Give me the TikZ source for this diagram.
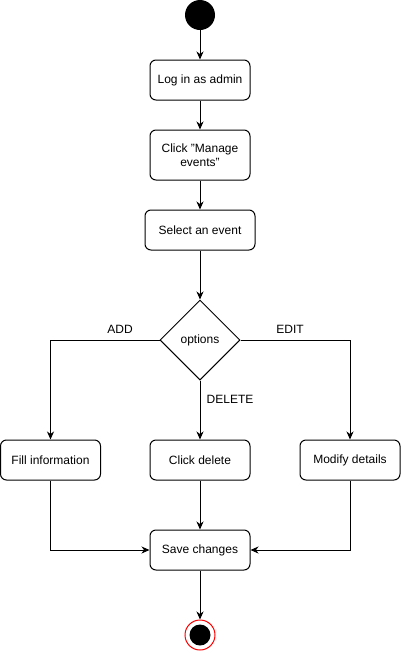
\documentclass[tikz,border=0pt]{standalone}
\usepackage{fontspec}
\setmainfont{Liberation Sans}
\usetikzlibrary{arrows.meta,shapes.geometric}
\begin{document}
\begin{tikzpicture}[x=1pt,y=-1pt,
  every node/.style={font=\fontsize{12}{14}\selectfont},
  act/.style={draw,line width=1pt,rounded corners=6pt,minimum height=40pt,align=center,inner sep=0pt},
  dec/.style={draw,line width=1pt,diamond,minimum width=80pt,minimum height=80pt,inner sep=0pt},
  flow/.style={line width=1pt,-{Stealth[length=8pt,width=7pt,inset=2.5pt]}},
  lbl/.style={inner sep=0pt}]
\useasboundingbox (0,0) rectangle (401,651);
\node[circle,fill=black,minimum size=30pt,inner sep=0pt] (start) at (200,15) {};
\node[act,minimum width=100pt] (login) at (200,80) {Log in as admin};
\node[act,minimum width=100pt,minimum height=50pt] (manage) at (200,155) {Click "Manage\\events"};
\node[act,minimum width=110pt] (select) at (200,230) {Select an event};
\node[dec] (opt) at (200,340) {options};
\node[act,minimum width=100pt] (fill) at (50.5,460) {Fill information};
\node[act,minimum width=100pt] (del) at (200,460) {Click delete};
\node[act,minimum width=100pt] (mod) at (350,460) {Modify details};
\node[act,minimum width=100pt] (save) at (200,550) {Save changes};
\node[circle,draw=red,line width=1pt,fill=white,minimum size=30pt,inner sep=0pt] (end) at (200,635) {};
\node[circle,fill=black,minimum size=21pt,inner sep=0pt] (endin) at (200,635) {};
\draw[flow] (start) -- (login);
\draw[flow] (login) -- (manage);
\draw[flow] (manage) -- (select);
\draw[flow] (select) -- (opt);
\draw[flow] (opt.west) -| (fill.north);
\draw[flow] (opt.east) -| (mod.north);
\draw[flow] (opt.south) -- (del.north);
\draw[flow] (fill.south) |- (save.west);
\draw[flow] (mod.south) |- (save.east);
\draw[flow] (del) -- (save);
\draw[flow] (save) -- (end);
\node[lbl] (ladd) at (120,329) {ADD};
\node[lbl] (ledit) at (290,329) {EDIT};
\node[lbl] (ldel) at (230,399) {DELETE};
\end{tikzpicture}
\end{document}
